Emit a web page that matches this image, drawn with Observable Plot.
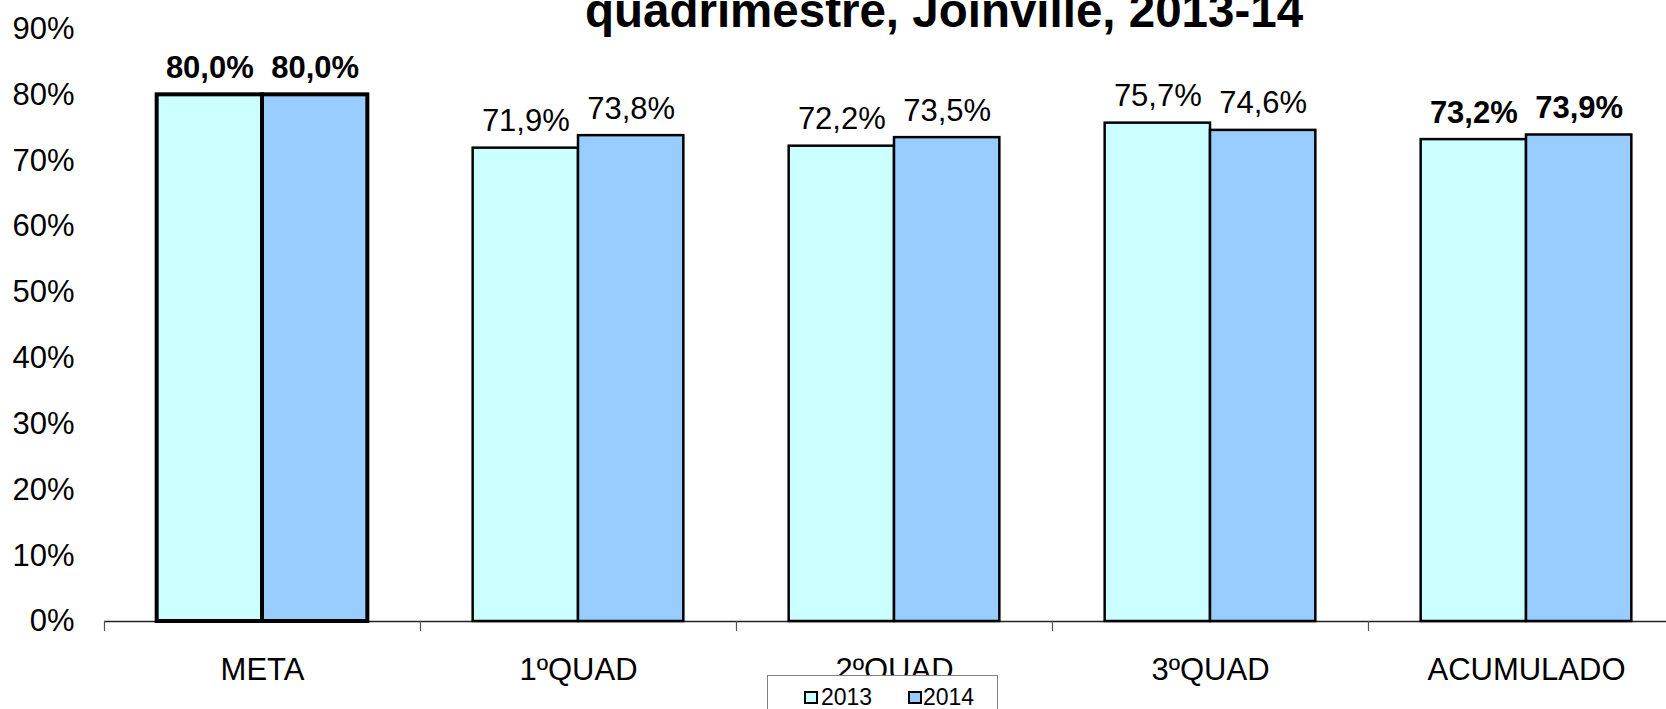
<!DOCTYPE html>
<html>
<head>
<meta charset="utf-8">
<script src="https://cdn.jsdelivr.net/npm/d3@7"></script>
<script src="https://cdn.jsdelivr.net/npm/@observablehq/plot@0.6"></script>
<style>
  html, body { margin: 0; padding: 0; background: #fff; overflow: hidden; }
  body { font-family: "Liberation Sans", Arial, sans-serif; }
  #wrap { position: relative; width: 1666px; height: 709px; overflow: hidden; background: #fff; }
  #chart { position: absolute; left: 0; top: 0; width: 1684px; }
  #chart svg { max-width: none !important; }
  #title { position: absolute; left: 944px; top: -13px; transform: translateX(-50%); white-space: nowrap;
           font: bold 47.5px/47px "Liberation Sans", Arial, sans-serif; color: #000; }
  #legend { position: absolute; left: 767px; top: 675px; width: 231px; height: 60px; box-sizing: border-box;
            border: 1px solid #808080; background: #fff; }
  .sw { position: absolute; width: 14px; height: 13px; box-sizing: border-box; border: 2px solid #000; }
  .lt { position: absolute; font: 23px/23px "Liberation Sans", Arial, sans-serif; color: #000; }
</style>
</head>
<body>
<div id="wrap">
  <div id="chart"></div>
  <div id="title"></div>
  <div id="legend"></div>
</div>
<script>
const titleText = "quadrimestre, Joinville, 2013-14";
const categories = ["META", "1ºQUAD", "2ºQUAD", "3ºQUAD", "ACUMULADO"];
const years = ["2013", "2014"];
const values2013 = [80.0, 71.9, 72.2, 75.7, 73.2];
const values2014 = [80.0, 73.8, 73.5, 74.6, 73.9];
const boldCategories = ["META", "ACUMULADO"];
const yTicks = [0, 10, 20, 30, 40, 50, 60, 70, 80, 90];
const colors = ["#CCFFFF", "#99CCFF"];

const data = categories.flatMap((c, i) => [
  {cat: c, year: years[0], value: values2013[i]},
  {cat: c, year: years[1], value: values2014[i]}
]);
const fmt = v => v.toFixed(1).replace(".", ",") + "%";
const isBold = d => boldCategories.includes(d.cat);

const chart = Plot.plot({
  width: 1684,
  height: 709,
  marginLeft: 104,
  marginRight: 0,
  marginTop: 28.5,
  marginBottom: 88,
  style: {fontFamily: "'Liberation Sans', Arial, sans-serif", fontSize: "31px", color: "#000", background: "#fff", maxWidth: "none"},
  fx: {domain: categories, padding: 0, label: null, round: false},
  x: {domain: years, paddingInner: 0, paddingOuter: 0.5, axis: null, round: false},
  y: {domain: [0, 90], ticks: yTicks, tickFormat: d => d + "%", tickSize: 0, tickPadding: 30, label: null},
  color: {domain: years, range: colors},
  marks: [
    Plot.ruleY([0], {stroke: "#222", strokeWidth: 1.5}),
    Plot.barY(data, {filter: d => d.cat !== "META", fx: "cat", x: "year", y: "value", fill: "year",
      stroke: "#000", strokeWidth: 2.5, inset: 0}),
    Plot.barY(data, {filter: d => d.cat === "META", fx: "cat", x: "year", y: "value", fill: "year",
      stroke: "#000", strokeWidth: 4, inset: 0}),
    Plot.text(data, {filter: d => !isBold(d), fx: "cat", x: "year", y: "value", text: d => fmt(d.value),
      dy: -17, lineAnchor: "bottom", fill: "#000"}),
    Plot.text(data, {filter: isBold, fx: "cat", x: "year", y: "value", text: d => fmt(d.value),
      dy: -17, lineAnchor: "bottom", fill: "#000", fontWeight: "bold"}),
    Plot.axisFx({anchor: "bottom", tickSize: 0, tickPadding: 36, label: null}),
    Plot.axisFx({anchor: "bottom", tickSize: 10, tickFormat: () => "", dx: -158, stroke: "#555", strokeWidth: 1.2, label: null})
  ]
});
document.getElementById("chart").appendChild(chart);

document.getElementById("title").textContent = titleText;

const legend = document.getElementById("legend");
years.forEach((y, i) => {
  const sw = document.createElement("div");
  sw.className = "sw";
  sw.style.left = (36 + i * 104) + "px";
  sw.style.top = "15px";
  sw.style.background = colors[i];
  legend.appendChild(sw);
  const t = document.createElement("div");
  t.className = "lt";
  t.style.left = (53 + i * 102) + "px";
  t.style.top = "10px";
  t.textContent = y;
  legend.appendChild(t);
});
</script>
</body>
</html>
